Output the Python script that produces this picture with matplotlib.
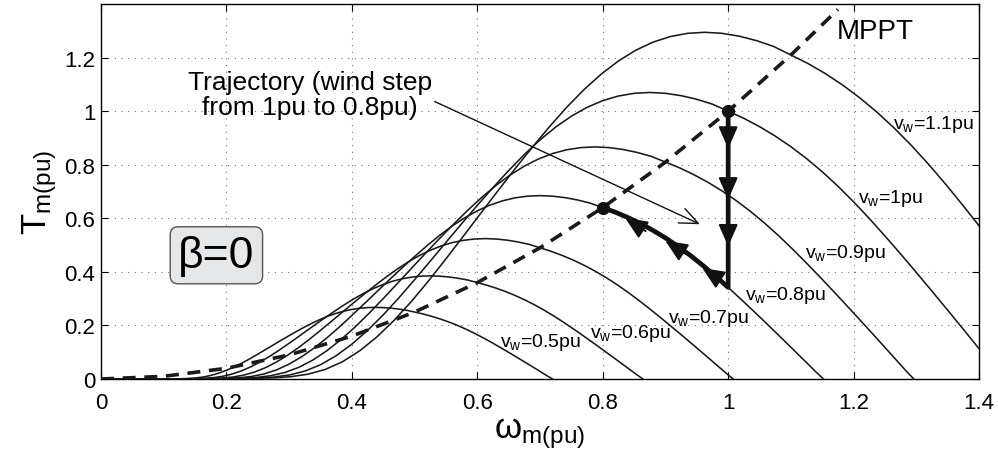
import numpy as np
import matplotlib
matplotlib.use("Agg")
import matplotlib.pyplot as plt

plt.rcParams['font.family'] = ['Liberation Sans', 'DejaVu Sans']
plt.rcParams['mathtext.fontset'] = 'custom'
plt.rcParams['mathtext.rm'] = 'Liberation Sans'
plt.rcParams['mathtext.it'] = 'Liberation Sans:italic'

# torque curves T_m(pu) vs omega_m(pu), one per wind speed
w_05 = [0, 0.075, 0.1, 0.125, 0.1375, 0.15, 0.1625, 0.175, 0.1875, 0.2, 0.2125, 0.225, 0.2375,
        0.25, 0.2625, 0.275, 0.2875, 0.3, 0.3125, 0.325, 0.3375, 0.35, 0.3625, 0.375, 0.3875,
        0.4, 0.4125, 0.425, 0.4375, 0.45, 0.4625, 0.475, 0.4875, 0.5, 0.5125, 0.525, 0.5375,
        0.55, 0.5625, 0.575, 0.5875, 0.6, 0.6125, 0.625, 0.6375, 0.65, 0.6625, 0.675, 0.6875,
        0.7, 0.7125, 0.72]
t_05 = [0, 0.0001, 0.0003, 0.0009, 0.0018, 0.0037, 0.0074, 0.0133, 0.0218, 0.0325, 0.0454,
        0.0599, 0.0758, 0.0927, 0.1101, 0.1276, 0.145, 0.1621, 0.1787, 0.1946, 0.2096, 0.2232,
        0.2352, 0.2454, 0.2536, 0.2599, 0.2642, 0.2667, 0.2675, 0.2667, 0.2645, 0.2611, 0.2566,
        0.25, 0.2434, 0.2356, 0.2268, 0.2169, 0.2058, 0.1935, 0.18, 0.1654, 0.1499, 0.1336,
        0.1167, 0.0995, 0.082, 0.0643, 0.0464, 0.0284, 0.0103, 0]

w_06 = [0, 0.09, 0.12, 0.15, 0.165, 0.18, 0.195, 0.21, 0.225, 0.24, 0.255, 0.27, 0.285, 0.30,
        0.315, 0.33, 0.345, 0.36, 0.375, 0.39, 0.405, 0.42, 0.435, 0.45, 0.465, 0.48, 0.495,
        0.51, 0.525, 0.54, 0.555, 0.57, 0.585, 0.60, 0.615, 0.63, 0.645, 0.66, 0.675, 0.69,
        0.705, 0.72, 0.735, 0.75, 0.765, 0.78, 0.795, 0.81, 0.825, 0.84, 0.855, 0.864]
t_06 = [0, 0.0001, 0.0005, 0.0013, 0.0026, 0.0054, 0.0106, 0.0192, 0.0313, 0.0468, 0.0653,
        0.0862, 0.1092, 0.1335, 0.1585, 0.1837, 0.2088, 0.2334, 0.2573, 0.2803, 0.3019, 0.3214,
        0.3387, 0.3533, 0.3652, 0.3742, 0.3804, 0.384, 0.3852, 0.3841, 0.3809, 0.376, 0.3695,
        0.36, 0.3504, 0.3393, 0.3266, 0.3123, 0.2963, 0.2786, 0.2592, 0.2382, 0.2158, 0.1923,
        0.168, 0.1432, 0.118, 0.0925, 0.0668, 0.0409, 0.0148, 0]

w_07 = [0, 0.105, 0.14, 0.175, 0.1925, 0.21, 0.2275, 0.245, 0.2625, 0.28, 0.2975, 0.315,
        0.3325, 0.35, 0.3675, 0.385, 0.4025, 0.42, 0.4375, 0.455, 0.4725, 0.49, 0.5075, 0.525,
        0.5425, 0.56, 0.5775, 0.595, 0.6125, 0.63, 0.6475, 0.665, 0.6825, 0.70, 0.7175, 0.735,
        0.7525, 0.77, 0.7875, 0.805, 0.8225, 0.84, 0.8575, 0.875, 0.8925, 0.91, 0.9275, 0.945,
        0.9625, 0.98, 0.9975, 1.008]
t_07 = [0, 0.0002, 0.0006, 0.0018, 0.0035, 0.0073, 0.0145, 0.0261, 0.0426, 0.0637, 0.0889,
        0.1174, 0.1486, 0.1817, 0.2157, 0.25, 0.2842, 0.3177, 0.3502, 0.3815, 0.4109, 0.4375,
        0.461, 0.4809, 0.4971, 0.5094, 0.5178, 0.5227, 0.5243, 0.5228, 0.5185, 0.5118, 0.5029,
        0.49, 0.477, 0.4618, 0.4446, 0.4251, 0.4033, 0.3793, 0.3528, 0.3242, 0.2938, 0.2618,
        0.2287, 0.195, 0.1607, 0.1259, 0.0909, 0.0556, 0.0201, 0]

w_08 = [0, 0.12, 0.16, 0.2, 0.22, 0.24, 0.26, 0.28, 0.30, 0.32, 0.34, 0.36, 0.38, 0.40, 0.42,
        0.44, 0.46, 0.48, 0.50, 0.52, 0.54, 0.56, 0.58, 0.60, 0.62, 0.64, 0.66, 0.68, 0.70, 0.72,
        0.74, 0.76, 0.78, 0.80, 0.82, 0.84, 0.86, 0.88, 0.90, 0.92, 0.94, 0.96, 0.98, 1.00,
        1.02, 1.04, 1.06, 1.08, 1.10, 1.12, 1.14, 1.152]
t_08 = [0, 0.0003, 0.0008, 0.0023, 0.0046, 0.0095, 0.0189, 0.0341, 0.0557, 0.0833, 0.1161,
        0.1533, 0.1941, 0.2373, 0.2817, 0.3265, 0.3711, 0.415, 0.4574, 0.4982, 0.5366, 0.5715,
        0.6021, 0.6282, 0.6493, 0.6653, 0.6764, 0.6828, 0.6848, 0.6828, 0.6772, 0.6685, 0.6568,
        0.64, 0.623, 0.6032, 0.5807, 0.5552, 0.5268, 0.4954, 0.4609, 0.4235, 0.3837, 0.3419,
        0.2988, 0.2547, 0.2099, 0.1645, 0.1187, 0.0726, 0.0263, 0]

w_09 = [0, 0.135, 0.18, 0.225, 0.2475, 0.27, 0.2925, 0.315, 0.3375, 0.36, 0.3825, 0.405,
        0.4275, 0.45, 0.4725, 0.495, 0.5175, 0.54, 0.5625, 0.585, 0.6075, 0.63, 0.6525, 0.675,
        0.6975, 0.72, 0.7425, 0.765, 0.7875, 0.81, 0.8325, 0.855, 0.8775, 0.90, 0.9225, 0.945,
        0.9675, 0.99, 1.0125, 1.035, 1.0575, 1.08, 1.1025, 1.125, 1.1475, 1.17, 1.1925, 1.215,
        1.2375, 1.26, 1.2825, 1.296]
t_09 = [0, 0.0003, 0.0011, 0.0029, 0.0058, 0.0121, 0.0239, 0.0432, 0.0705, 0.1054, 0.1469,
        0.194, 0.2457, 0.3003, 0.3566, 0.4133, 0.4697, 0.5252, 0.5789, 0.6306, 0.6792, 0.7232,
        0.762, 0.795, 0.8217, 0.842, 0.856, 0.8641, 0.8667, 0.8642, 0.8571, 0.846, 0.8313, 0.81,
        0.7885, 0.7634, 0.7349, 0.7027, 0.6667, 0.6269, 0.5833, 0.536, 0.4856, 0.4327, 0.3781,
        0.3223, 0.2656, 0.2082, 0.1503, 0.0919, 0.0333, 0]

w_10 = [0, 0.15, 0.2, 0.25, 0.275, 0.3, 0.325, 0.35, 0.375, 0.4, 0.425, 0.45, 0.475, 0.5,
        0.525, 0.55, 0.575, 0.6, 0.625, 0.65, 0.675, 0.7, 0.725, 0.75, 0.775, 0.8, 0.825, 0.85,
        0.875, 0.9, 0.925, 0.95, 0.975, 1.0, 1.025, 1.05, 1.075, 1.1, 1.125, 1.15, 1.175, 1.2,
        1.225, 1.25, 1.275, 1.3, 1.325, 1.35, 1.375, 1.4, 1.425, 1.44]
t_10 = [0, 0.0004, 0.0013, 0.0036, 0.0072, 0.0149, 0.0295, 0.0533, 0.087, 0.1301, 0.1814,
        0.2395, 0.3033, 0.3708, 0.4402, 0.5102, 0.5799, 0.6484, 0.7147, 0.7785, 0.8385, 0.8929,
        0.9408, 0.9815, 1.0145, 1.0395, 1.0568, 1.0668, 1.07, 1.0669, 1.0581, 1.0445, 1.0263,
        1.0, 0.9734, 0.9425, 0.9073, 0.8675, 0.8231, 0.774, 0.7201, 0.6617, 0.5995, 0.5342,
        0.4668, 0.3979, 0.3279, 0.257, 0.1855, 0.1135, 0.0411, 0]

w_11 = [0, 0.165, 0.22, 0.275, 0.3025, 0.33, 0.3575, 0.385, 0.4125, 0.44, 0.4675, 0.495,
        0.5225, 0.55, 0.5775, 0.605, 0.6325, 0.66, 0.6875, 0.715, 0.7425, 0.77, 0.7975, 0.825,
        0.8525, 0.88, 0.9075, 0.935, 0.9625, 0.99, 1.0175, 1.045, 1.0725, 1.10, 1.1275, 1.155,
        1.1825, 1.21, 1.2375, 1.265, 1.2925, 1.32, 1.3475, 1.375, 1.4025, 1.43]
t_11 = [0, 0.0005, 0.0016, 0.0044, 0.0087, 0.018, 0.0357, 0.0645, 0.1053, 0.1574, 0.2195,
        0.2898, 0.367, 0.4487, 0.5326, 0.6173, 0.7017, 0.7846, 0.8648, 0.942, 1.0146, 1.0804,
        1.1384, 1.1876, 1.2275, 1.2578, 1.2787, 1.2908, 1.2947, 1.2909, 1.2803, 1.2638, 1.2418,
        1.21, 1.1778, 1.1404, 1.0978, 1.0497, 0.996, 0.9365, 0.8713, 0.8007, 0.7254, 0.6464,
        0.5648, 0.4815]

curves = [(w_05, t_05), (w_06, t_06), (w_07, t_07), (w_08, t_08),
          (w_09, t_09), (w_10, t_10), (w_11, t_11)]

# MPPT locus
w_mppt = [0, 0.1, 0.2, 0.3, 0.4, 0.5, 0.6, 0.7, 0.8, 0.9, 1.0, 1.1, 1.175]
t_mppt = [0, 0.01, 0.04, 0.09, 0.16, 0.25, 0.36, 0.49, 0.64, 0.81, 1.0, 1.21, 1.38]

# curve labels: (text, omega, T baseline)
labels = [("1.1", 1.263, 0.939), ("1", 1.207, 0.66), ("0.9", 1.123, 0.455),
          ("0.8", 1.027, 0.298), ("0.7", 0.904, 0.212), ("0.6", 0.78, 0.156),
          ("0.5", 0.636, 0.123)]

# trajectory: drop from (1,1) on v=1 to v=0.8 at omega=1, then along v=0.8 to its MPPT point
i_start, i_end = 43, 33
traj_w = [w_10[33]] + w_08[i_start:i_end - 1:-1]
traj_t = [t_10[33]] + t_08[i_start:i_end - 1:-1]
down_tips = [0.85, 0.66, 0.485]
up_tips = [(0.955, 0.42), (0.896, 0.522), (0.832, 0.607)]

xticks = [0, 0.2, 0.4, 0.6, 0.8, 1.0, 1.2, 1.4]
xtick_labels = ["0", "0.2", "0.4", "0.6", "0.8", "1", "1.2", "1.4"]
yticks = [0, 0.2, 0.4, 0.6, 0.8, 1.0, 1.2]
ytick_labels = ["0", "0.2", "0.4", "0.6", "0.8", "1", "1.2"]

fig = plt.figure(figsize=(9.98, 4.64), dpi=100)
ax = fig.add_axes([0.1012, 0.181, 0.8798, 0.808])

for w, t in curves:
    ax.plot(w, t, color='#1a1a1a', lw=1.15, zorder=3)

ax.plot(w_mppt, t_mppt, color='#1a1a1a', lw=2.6, dashes=(3.6, 2.4), zorder=4)

ax.plot(traj_w, traj_t, color='#111111', lw=3.4, zorder=5, solid_capstyle='butt',
        solid_joinstyle='round')
head = '-|>,head_length=0.75,head_width=0.33'
for tip in down_tips:
    ax.annotate("", xy=(1.0, tip), xytext=(1.0, tip + 0.08),
                arrowprops=dict(arrowstyle=head, mutation_scale=18,
                                color='#111111', lw=1.5), zorder=6)
for tw, tt in up_tips:
    ax.annotate("", xy=(tw, tt), xytext=(tw + 0.04, tt - 0.06),
                arrowprops=dict(arrowstyle=head, mutation_scale=18,
                                color='#111111', lw=1.5), zorder=6)
ax.plot([w_10[33], w_08[33]], [t_10[33], t_08[33]], 'o', color='#111111', ms=8.5, zorder=7)

for val, lx, lt in labels:
    ax.text(lx, lt, r"v$_{\mathrm{w}}$=" + val + "pu", fontsize=14, ha='left',
            va='baseline', zorder=8)

ax.text(1.234, 1.30, "MPPT", fontsize=20, ha='center', va='center')

ax.annotate("Trajectory (wind step\nfrom 1pu to 0.8pu)", xy=(0.955, 0.578),
            xytext=(0.333, 1.062), fontsize=19, ha='center', va='center',
            linespacing=1.05,
            arrowprops=dict(arrowstyle='->,head_length=0.7,head_width=0.3',
                            color='#111111', lw=1.0, shrinkA=0, shrinkB=0,
                            relpos=(0.985, 0.42)))

ax.text(0.184, 0.462, "β=0", fontsize=32, ha='center', va='center',
        bbox=dict(boxstyle='round,pad=0.18', fc='#e6e7e8', ec='#555555', lw=1.0))

ax.set_xlim(0, 1.4)
ax.set_ylim(0, 1.4)
ax.set_xticks(xticks)
ax.set_xticklabels(xtick_labels)
ax.set_yticks(yticks)
ax.set_yticklabels(ytick_labels)
ax.tick_params(direction='in', length=5, width=0.8, top=True, right=True,
               labelsize=16)
ax.tick_params(axis='x', pad=9)
ax.tick_params(axis='y', pad=4)
ax.grid(True, color='#777777', lw=0.8, linestyle=(0, (1, 5)))
for s in ax.spines.values():
    s.set_linewidth(1.0)

ax.set_xlabel(r"$\mathrm{\omega_{m(pu)}}$", fontsize=25, labelpad=2)
ax.set_ylabel(r"$\mathrm{T_{m(pu)}}$", fontsize=25, labelpad=4)

fig.savefig("out.png", dpi=100)
